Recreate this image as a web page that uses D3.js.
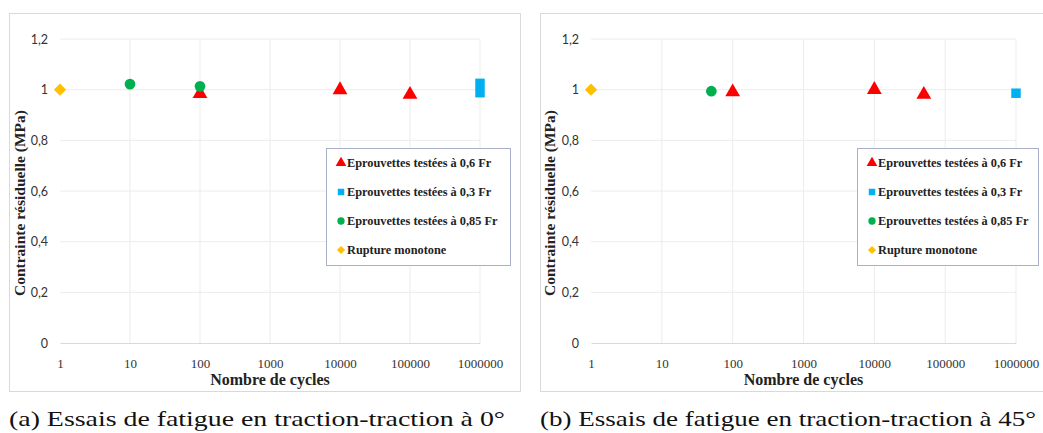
<!DOCTYPE html>
<html>
<head>
<meta charset="utf-8">
<script src="https://cdn.jsdelivr.net/npm/d3@7"></script>
<style>
  body { margin: 0; background: #fff; }
  svg { display: block; }
</style>
</head>
<body>
<svg id="chart" width="1043" height="433"></svg>
<script>
// tick values
const xTicks = [1, 10, 100, 1000, 10000, 100000, 1000000];
const yTicks = [0, 0.2, 0.4, 0.6, 0.8, 1, 1.2];

const seriesNames = [
    "Eprouvettes testées à 0,6 Fr",
    "Eprouvettes testées à 0,3 Fr",
    "Eprouvettes testées à 0,85 Fr",
    "Rupture monotone"
];
const seriesColors = ["#ff0000", "#00b0f0", "#00b050", "#ffc000"];
const seriesShapes = ["triangle", "square", "circle", "diamond"];

// (a) 0°  -- [cycles, contrainte]
const a_06 = [[100, 0.984], [10000, 0.999], [100000, 0.981]];
const a_03 = [[1000000, 1.025], [1000000, 0.988]];
const a_085 = [[10, 1.022], [100, 1.013]];
const a_mono = [[1, 1.0]];

// (b) 45°
const b_06 = [[100, 0.991], [10000, 1.0], [50000, 0.981]];
const b_03 = [[1000000, 0.986]];
const b_085 = [[50, 0.994]];
const b_mono = [[1, 1.0]];

const captionA = "(a) Essais de fatigue en traction-traction à 0°";
const captionB = "(b) Essais de fatigue en traction-traction à 45°";

let svg = d3.select("#chart");

function symbolFor(shape) {
    if (shape == "triangle") return d3.symbolTriangle;
    if (shape == "circle") return d3.symbolCircle;
    return d3.symbolSquare; // diamond = rotated square
}

function drawPanel(px, series, caption, plotW, legendX, legendW, titleX) {
    let panel = svg.append("g").attr("transform", `translate(${px},0)`);

    // panel frame
    panel.append("rect")
        .attr("x", 0.5).attr("y", 13.5)
        .attr("width", 511).attr("height", 378)
        .attr("fill", "white")
        .attr("stroke", "#d9d9d9");

    let x_scale = d3.scaleLog().domain([1, 1000000]).range([51, 51 + plotW]);
    let y_scale = d3.scaleLinear().domain([0, 1.2]).range([343, 39]);

    // grid
    panel.append("g")
        .selectAll("line.v")
        .data(xTicks.slice(1))
        .enter().append("line")
        .attr("x1", d => x_scale(d)).attr("x2", d => x_scale(d))
        .attr("y1", y_scale(0)).attr("y2", y_scale(1.2))
        .attr("stroke", "#ececec");
    panel.append("g")
        .selectAll("line.h")
        .data(yTicks.slice(1))
        .enter().append("line")
        .attr("x1", x_scale(1)).attr("x2", x_scale(1000000))
        .attr("y1", d => y_scale(d)).attr("y2", d => y_scale(d))
        .attr("stroke", "#ececec");

    // x axis
    let xAxis = panel.append("g")
        .attr("transform", `translate(0,${y_scale(0)})`)
        .call(d3.axisBottom(x_scale).tickValues(xTicks).tickFormat(d3.format("d")).tickSize(0).tickPadding(16));
    xAxis.select(".domain").attr("stroke", "#d9d9d9");
    xAxis.selectAll(".tick text")
        .style("font-family", "'Liberation Serif', serif")
        .style("font-size", "13px")
        .style("fill", "#333");

    // y axis
    let yAxis = panel.append("g")
        .attr("transform", `translate(${x_scale(1) - 12},0)`)
        .call(d3.axisLeft(y_scale).tickValues(yTicks).tickFormat(d => String(d).replace(".", ",")).tickSize(0).tickPadding(0));
    yAxis.select(".domain").remove();
    yAxis.selectAll(".tick text")
        .style("font-family", "Lato, sans-serif")
        .style("font-size", "12.5px")
        .style("fill", "#333");

    // axis labels
    panel.append("text")
        .attr("x", x_scale(1000))
        .attr("y", 385)
        .attr("text-anchor", "middle")
        .style("font-family", "'Liberation Serif', serif")
        .style("font-weight", "bold")
        .style("font-size", "16px")
        .style("fill", "#222")
        .text("Nombre de cycles");
    panel.append("text")
        .attr("transform", "rotate(-90)")
        .attr("x", -203)
        .attr("y", titleX)
        .attr("text-anchor", "middle")
        .style("font-family", "'Liberation Serif', serif")
        .style("font-weight", "bold")
        .style("font-size", "15.5px")
        .style("fill", "#222")
        .text("Contrainte résiduelle (MPa)");

    // points
    series.forEach((s, i) => {
        let shape = seriesShapes[i];
        let sym = d3.symbol().type(symbolFor(shape))
            .size(shape == "triangle" ? 95 : (shape == "diamond" ? 75 : 90));
        panel.append("g")
            .selectAll("path")
            .data(s)
            .enter().append("path")
            .attr("d", sym)
            .attr("transform", d => `translate(${x_scale(d[0])},${y_scale(d[1])})` + (shape == "diamond" ? " rotate(45)" : ""))
            .attr("fill", seriesColors[i]);
    });

    // legend
    let lg = panel.append("g").attr("transform", `translate(${legendX},148)`);
    lg.append("rect")
        .attr("x", 0.5).attr("y", 0.5)
        .attr("width", legendW).attr("height", 117)
        .attr("fill", "white")
        .attr("stroke", "#a9b1c8");
    seriesNames.forEach((name, i) => {
        let cy = 15 + i * 29;
        let shape = seriesShapes[i];
        let sym = d3.symbol().type(symbolFor(shape)).size(shape == "triangle" ? 50 : (shape == "diamond" ? 34 : 42));
        lg.append("path")
            .attr("d", sym)
            .attr("transform", `translate(15,${cy})` + (shape == "diamond" ? " rotate(45)" : ""))
            .attr("fill", seriesColors[i]);
        lg.append("text")
            .attr("x", 21)
            .attr("y", cy + 4)
            .style("font-family", "'Liberation Serif', serif")
            .style("font-weight", "bold")
            .style("font-size", "12.3px")
            .style("fill", "#222")
            .text(name);
    });

    // caption
    panel.append("text")
        .attr("x", 0)
        .attr("y", 426)
        .attr("textLength", 496)
        .attr("lengthAdjust", "spacingAndGlyphs")
        .style("font-family", "'Liberation Serif', serif")
        .style("font-size", "22px")
        .style("fill", "#111")
        .text(caption);
}

drawPanel(9, [a_06, a_03, a_085, a_mono], captionA, 420, 317, 184, 16);
drawPanel(540, [b_06, b_03, b_085, b_mono], captionB, 425, 317, 181, 15);
</script>
</body>
</html>
